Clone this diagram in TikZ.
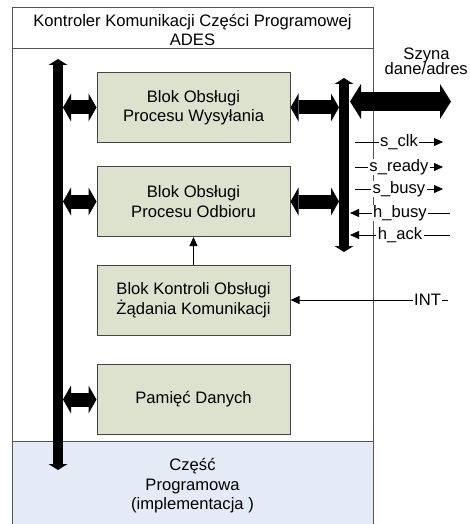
\documentclass[tikz,border=0pt]{standalone}
\usepackage{fontspec}
\setmainfont{Liberation Sans}
\usetikzlibrary{arrows.meta}
\definecolor{blockfill}{RGB}{221,226,207}
\definecolor{implfill}{RGB}{229,235,246}
\definecolor{frame}{RGB}{85,85,85}
\begin{document}
\begin{tikzpicture}[x=1pt,y=-1pt,
  every node/.style={font=\fontsize{16.6}{19.5}\selectfont},
  block/.style={draw=frame!80!black, line width=1pt, fill=blockfill, minimum width=193pt,
    minimum height=70pt, align=center, inner sep=0pt},
  bus/.style={line width=10pt, {Triangle[width=19pt,length=6pt,line width=0pt]}-{Triangle[width=19pt,length=6pt,line width=0pt]}},
  link/.style={line width=14pt, {Triangle[width=28pt,length=8pt,line width=0pt]}-{Triangle[width=28pt,length=8pt,line width=0pt]}},
  ext/.style={line width=19pt, {Triangle[width=35pt,length=11pt,line width=0pt]}-{Triangle[width=35pt,length=11pt,line width=0pt]}},
  sig/.style={line width=0.8pt, -{Triangle[width=8pt,length=9pt]}},
  sigtext/.style={fill=white, inner xsep=1.5pt, inner ysep=0.5pt},
]
\useasboundingbox (0,0) rectangle (469,524);

% controller frame, header and implementation band
\fill[implfill] (12,441) rectangle (373,530);
\draw[frame, line width=1pt] (12,530) -- (12,8) -- (373,8) -- (373,530);
\draw[frame, line width=1pt] (12,49) -- (373,49);
\draw[frame, line width=1pt] (12,441) -- (373,441);
\node[align=center] (title) at (192.5,30) {Kontroler Komunikacji Części Programowej\\ADES};
\node[align=center] (impl) at (192.5,486) {Część\\Programowa\\(implementacja )};

% functional blocks
\node[block] (send) at (193.5,107.5) {Blok Obsługi\\Procesu Wysyłania};
\node[block] (recv) at (193.5,201.5) {Blok Obsługi\\Procesu Odbioru};
\node[block] (ctrl) at (193.5,300) {Blok Kontroli Obsługi\\Żądania Komunikacji};
\node[block] (mem) at (193.5,399.5) {Pamięć Danych};

% internal and external buses
\coordinate (lbT) at (58,59);
\coordinate (lbB) at (58,470);
\coordinate (lbE) at (63,0);
\coordinate (rbT) at (344,78);
\coordinate (rbB) at (344,252);
\coordinate (rbW) at (339,0);
\coordinate (rbE) at (350,101.5);
\coordinate (extE) at (451,101.5);
\draw[bus] (lbT) -- (lbB);
\draw[bus] (rbT) -- (rbB);
\draw[link] (send.west) -- (send.west -| lbE);
\draw[link] (recv.west) -- (recv.west -| lbE);
\draw[link] (mem.west) -- (mem.west -| lbE);
\draw[link] (send.east) -- (send.east -| rbW);
\draw[link] (recv.east) -- (recv.east -| rbW);
\draw[ext] (rbE) -- (extE);
\node[anchor=base, inner sep=0pt] (szyna) at (426.5,59.5) {Szyna};
\node[anchor=base east, inner sep=0pt] (dane) at (468,75) {dane/adres};

% control signals
\coordinate (sclkA) at (355,142);   \coordinate (sclkB) at (443,142);
\coordinate (srdyA) at (355,167);   \coordinate (srdyB) at (443,167);
\coordinate (sbsyA) at (355,189);   \coordinate (sbsyB) at (443,189);
\coordinate (hbsyA) at (450,213);   \coordinate (hbsyB) at (350,213);
\coordinate (hackA) at (450,235);   \coordinate (hackB) at (350,235);
\coordinate (intA) at (448,300);
\draw[sig] (sclkA) -- (sclkB) node[midway, sigtext] {s\_clk};
\draw[sig] (srdyA) -- (srdyB) node[midway, sigtext] {s\_ready};
\draw[sig] (sbsyA) -- (sbsyB) node[midway, sigtext] {s\_busy};
\draw[sig] (hbsyA) -- (hbsyB) node[midway, sigtext] {h\_busy};
\draw[sig] (hackA) -- (hackB) node[midway, sigtext] {h\_ack};
\draw[sig] (intA) -- (ctrl.east) node[pos=0.13, sigtext] {INT};
\draw[sig] (ctrl.north) -- (recv.south);
\end{tikzpicture}
\end{document}
